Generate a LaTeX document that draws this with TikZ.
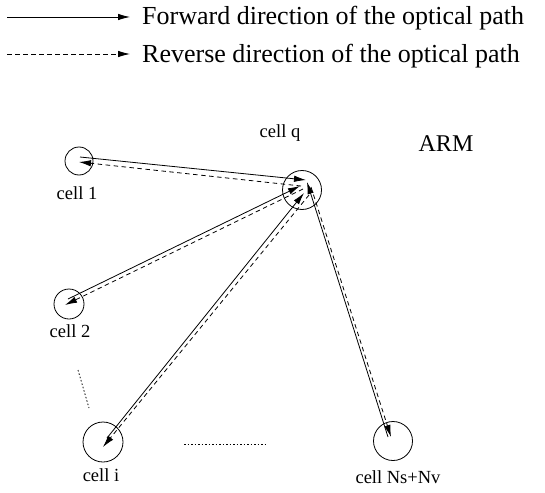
\documentclass[tikz,border=0pt]{standalone}
\usepackage{fontspec}
\setmainfont{Liberation Serif}
\usetikzlibrary{arrows.meta}
\begin{document}
\begin{tikzpicture}[x=1pt,y=-1pt,
  cellc/.style={draw,circle,line width=0.8pt,inner sep=0pt},
  tip/.style={-{Latex[length=12pt,width=6.5pt]}},
  fwd/.style={line width=0.8pt,tip},
  rev/.style={line width=0.8pt,dash pattern=on 4.5pt off 3.5pt,tip},
  lbl/.style={font=\fontsize{18.5}{20}\selectfont},
  leg/.style={font=\fontsize{26}{28}\selectfont,anchor=base west,inner sep=0pt},
  dots/.style={line width=0.8pt,dash pattern=on 1.5pt off 2pt}]
\useasboundingbox (0,0) rectangle (545,492);
% legend
\coordinate (l1a) at (7,17); \coordinate (l1b) at (130,17);
\coordinate (l2a) at (7,54); \coordinate (l2b) at (130,54);
\draw[fwd] (l1a) -- (l1b);
\draw[rev] (l2a) -- (l2b);
\node[leg] (t1) at (142,25) {Forward direction of the optical path};
\node[leg] (t2) at (142,63) {Reverse direction of the optical path};
% cells
\node[cellc,minimum size=28pt] (c1) at (79,161) {};
\node[cellc,minimum size=39pt] (cq) at (302,190) {};
\node[cellc,minimum size=30pt] (c2) at (69,304) {};
\node[cellc,minimum size=40pt] (ci) at (103,442) {};
\node[cellc,minimum size=39pt] (cn) at (393,441) {};
% labels
\node[lbl] (l1) at (77,193) {cell 1};
\node[lbl] (lq) at (280,133) {cell q};
\node[lbl] (l2) at (70,331) {cell 2};
\node[lbl] (li) at (101,475) {cell i};
\node[lbl] (ln) at (398,477) {cell Ns+Nv};
\node[font=\fontsize{24}{26}\selectfont] (arm) at (446,144) {ARM};
% connectors
\draw[fwd] ([shift={(1,-4)}]c1.center) -- ([shift={(4,-10)}]cq.center);
\draw[rev] ([shift={(-1,-4)}]cq.center) -- ([shift={(0,1)}]c1.center);
\draw[fwd] ([shift={(-1,-5)}]c2.center) -- ([shift={(-2,-4)}]cq.center);
\draw[rev] ([shift={(1,-1)}]cq.center) -- ([shift={(-4,1)}]c2.center);
\draw[fwd] ([shift={(4,-4)}]ci.center) -- ([shift={(2,3)}]cq.center);
\draw[rev] ([shift={(7,5)}]cq.center) -- ([shift={(0,5)}]ci.center);
\draw[fwd] ([shift={(-5,-4)}]cn.center) -- ([shift={(5,-8)}]cq.center);
\draw[rev] ([shift={(9,-3)}]cq.center) -- ([shift={(-2,-4)}]cn.center);
% dotted marks
\coordinate (d1a) at (78,370); \coordinate (d1b) at (89,408);
\coordinate (d2a) at (184,444); \coordinate (d2b) at (268,444);
\draw[dots] (d1a) -- (d1b);
\draw[dots] (d2a) -- (d2b);
\end{tikzpicture}
\end{document}
